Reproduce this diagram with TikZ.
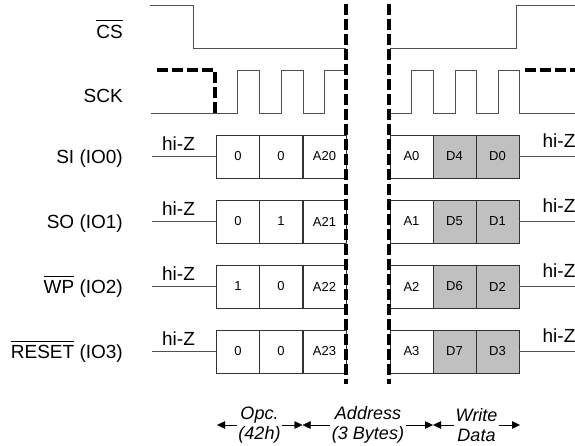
\documentclass[tikz,border=0pt]{standalone}
\usepackage{fontspec}
\setmainfont{Liberation Sans}
\usetikzlibrary{arrows.meta}
\definecolor{wire}{RGB}{80,80,80}
\definecolor{datagray}{RGB}{192,192,192}
\newcommand{\ovl}[1]{$\overline{\rule{0pt}{0.85em}\mbox{#1}}$}

\begin{document}
\begin{tikzpicture}[x=1pt,y=-1pt,>={Triangle[length=8pt,width=7.5pt]},
  sig/.style={draw=wire,line width=0.9pt},
  cut/.style={line width=3.2pt,dash pattern=on 11pt off 4pt},
  lbl/.style={anchor=base east,inner sep=0pt,font=\fontsize{19}{23}\selectfont},
  hiz/.style={anchor=base,inner sep=0pt,font=\fontsize{19}{23}\selectfont},
  cell/.style={draw=black!80,line width=0.9pt,minimum width=43pt,minimum height=43pt,
    inner sep=0pt,font=\fontsize{13}{15}\selectfont},
  dcell/.style={cell,fill=datagray},
  span/.style={align=center,inner sep=1.5pt,font=\fontsize{18}{20}\selectfont\itshape}]
  \useasboundingbox (0,0) rectangle (575,445);
  % chip select and clock
  \node[lbl] (cs) at (123,38) {\ovl{CS}};
  \node[lbl] (sck) at (123,102) {SCK};
  \draw[sig] (150,5) -- (193,5) -- (193,48) -- (346,48);
  \draw[sig] (390,48) -- (516,48) -- (516,5) -- (575,5);
  \draw[sig] (151,113) -| (237,70) -| (259,113) -| (281,70) -| (303,113) -| (324,70) -- (346,70);
  \draw[sig] (390,113) -| (411,70) -| (433,113) -| (455,70) -| (476,113) -| (498,70) -| (519,113) -- (575,113);
  \draw[cut] (157,70) -| (215,113);
  \draw[cut] (525,70) -- (575,70);
  % IO lines
  \foreach \m/\lab/\a/\b/\c/\d/\e/\f [count=\i] in {
      156.5/SI (IO0)/0/0/A20/A0/D4/D0,
      221.5/SO (IO1)/0/1/A21/A1/D5/D1,
      286.5/\ovl{WP} (IO2)/1/0/A22/A2/D6/D2,
      351.5/\ovl{RESET} (IO3)/0/0/A23/A3/D7/D3} {
    \node[lbl] (io\i) at (123,\m+7) {\lab};
    \node[cell] (op\i) at (238,\m) {\a};
    \node[cell] (md\i) at (281,\m) {\b};
    \node[cell] (hi\i) at (324.5,\m) {\c};
    \node[cell] (lo\i) at (411.5,\m) {\d};
    \node[dcell] (dh\i) at (454.5,\m) {\e};
    \node[dcell] (dl\i) at (497.5,\m) {\f};
    \coordinate (inz\i) at (152,\m);
    \coordinate (outz\i) at (575,\m);
    \draw[sig] (inz\i) -- (op\i.west);
    \draw[sig] (dl\i.east) -- (outz\i);
    \node[hiz] (hzl\i) at (178.5,\m-6) {hi-Z};
    \node[hiz] (hzr\i) at (559,\m-9) {hi-Z};
  }
  % break in the sequence
  \draw[cut] (346,4) -- (346,384);
  \draw[cut] (389,4) -- (389,384);
  % phases
  \coordinate (s0) at (217,425);
  \coordinate (s1) at (302.5,425);
  \coordinate (s2) at (433,425);
  \coordinate (s3) at (520,425);
  \node[span] (opc) at (259.5,425) {Opc.\\(42h)};
  \node[span] (adr) at (368,425) {Address\\(3 Bytes)};
  \node[span] (wdat) at (476.5,425) {Write\\Data};
  \draw[->] (opc.west) -- (s0);
  \draw[->] (opc.east) -- (s1);
  \draw[->] (adr.west) -- (s1);
  \draw[->] (adr.east) -- (s2);
  \draw[->] (wdat.west) -- (s2);
  \draw[->] (wdat.east) -- (s3);
\end{tikzpicture}
\end{document}
